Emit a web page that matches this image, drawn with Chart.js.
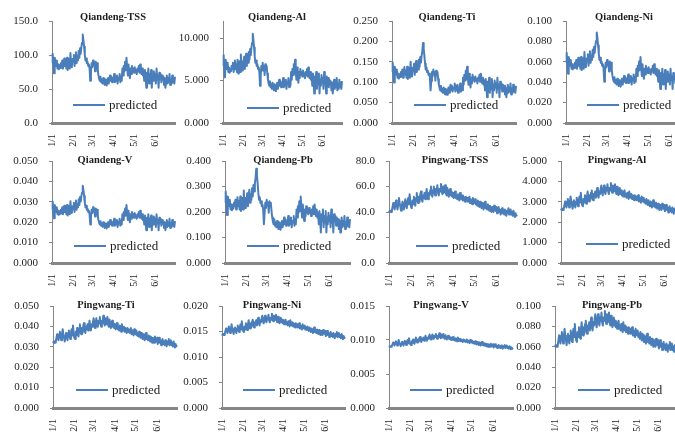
<!DOCTYPE html>
<html>
<head>
<meta charset="utf-8">
<script src="https://cdn.jsdelivr.net/npm/chart.js@4.4.1/dist/chart.umd.min.js"></script>
<style>
  html, body { margin: 0; padding: 0; background: #fff; }
  body { width: 675px; height: 433px; overflow: hidden; position: relative; }
  canvas { position: absolute; }
</style>
</head>
<body>
<script>
// ---- categories: one label per day, 1 Jan to 30 Jun ----
const monthLengths = [31, 28, 31, 30, 31, 30];
const dayLabels = [];
monthLengths.forEach((n, m) => { for (let d = 1; d <= n; d++) dayLabels.push((m + 1) + '/' + d); });

const panelTitles = ['Qiandeng-TSS', 'Qiandeng-Al', 'Qiandeng-Ti', 'Qiandeng-Ni',
                     'Qiandeng-V', 'Qiandeng-Pb', 'Pingwang-TSS', 'Pingwang-Al',
                     'Pingwang-Ti', 'Pingwang-Ni', 'Pingwang-V', 'Pingwang-Pb'];
const seriesName = 'predicted';

// ---- y axis ticks (max, step, decimals) ----
const yMax      = [150, 12, 0.25, 0.1, 0.05, 0.4, 80, 5, 0.05, 0.02, 0.015, 0.1];
const yStep     = [50, 5, 0.05, 0.02, 0.01, 0.1, 20, 1, 0.01, 0.005, 0.005, 0.02];
const yDecimals = [1, 3, 3, 3, 3, 3, 1, 3, 3, 3, 3, 3];

// ---- Qiandeng predicted series ----
const qiandengTSS = [
  88,102,85,73,96,90,84,92,80,86,79,83,81,88,84,92,80,86,95,84,90,80,96,78,88,94,80,103,86,82,94,
  90,100,84,95,104,88,98,92,106,96,110,102,112,118,130,122,112,100,92,95,88,90,84,86,80,62,75,88,
  82,92,85,88,76,90,84,88,78,70,65,62,68,60,64,58,66,62,56,64,60,55,62,66,58,64,70,62,68,60,66,
  64,72,60,68,62,70,58,66,64,72,60,68,62,80,70,84,76,90,78,96,82,70,86,74,66,80,72,84,76,80,
  74,82,76,78,72,80,76,84,74,86,78,72,80,70,76,62,78,68,52,74,66,80,58,72,64,78,52,70,62,76,66,
  72,58,80,64,70,52,74,66,72,60,70,64,68,56,66,52,62,70,58,66,60,72,56,64,58,70,60,66,58,68];
const qiandengAl = [
  6.72,7.98,6.45,5.37,7.44,6.9,6.36,7.08,6,6.54,5.91,6.27,6.09,6.72,6.36,7.08,6,6.54,7.35,6.36,6.9,6,7.44,5.82,6.72,7.26,6,8.07,6.54,6.18,7.26,
  6.9,7.8,6.36,7.35,8.16,6.72,7.62,7.08,8.34,7.44,8.7,7.98,8.88,9.42,10.5,9.78,8.88,7.8,7.08,7.35,6.72,6.9,6.36,6.54,6,4.38,5.55,6.72,
  6.18,7.08,6.45,6.72,5.64,6.9,6.36,6.72,5.82,5.1,4.65,4.38,4.92,4.2,4.56,4.02,4.74,4.38,3.84,4.56,4.2,3.75,4.38,4.74,4.02,4.56,5.1,4.38,4.92,4.2,4.74,
  4.56,5.28,4.2,4.92,4.38,5.1,4.02,4.74,4.56,5.28,4.2,4.92,4.38,6,5.1,6.36,5.64,6.9,5.82,7.44,6.18,5.1,6.54,5.46,4.74,6,5.28,6.36,5.64,6,
  5.46,6.18,5.64,5.82,5.28,6,5.64,6.36,5.46,6.54,5.82,5.28,6,5.1,5.64,4.38,5.82,4.92,3.48,5.46,4.74,6,4.02,5.28,4.56,5.82,3.48,5.1,4.38,5.64,4.74,
  5.28,4.02,6,4.56,5.1,3.48,5.46,4.74,5.28,4.2,5.1,4.56,4.92,3.84,4.74,3.48,4.38,5.1,4.02,4.74,4.2,5.28,3.84,4.56,4.02,5.1,4.2,4.74,4.02,4.92];
const qiandengTi = [
  .125,.148,.120,.099,.138,.128,.118,.131,.111,.121,.109,.116,.113,.125,.118,.131,.111,.121,.137,.118,.128,.111,.138,.108,.125,.135,.111,.150,.121,.114,.135,
  .128,.145,.118,.137,.152,.125,.142,.131,.155,.138,.162,.148,.165,.176,.196,.182,.165,.145,.131,.137,.125,.128,.118,.121,.111,.080,.103,.125,
  .114,.131,.120,.125,.104,.128,.118,.125,.108,.094,.086,.080,.091,.077,.084,.074,.087,.080,.070,.084,.077,.069,.080,.087,.074,.084,.094,.080,.091,.077,.087,
  .084,.097,.077,.091,.080,.094,.074,.087,.084,.097,.077,.091,.080,.111,.094,.118,.104,.128,.108,.138,.114,.094,.121,.101,.087,.111,.097,.118,.104,.111,
  .101,.114,.104,.108,.097,.111,.104,.118,.101,.121,.108,.097,.111,.094,.104,.080,.108,.091,.063,.101,.087,.111,.074,.097,.084,.108,.063,.094,.080,.104,.087,
  .097,.074,.111,.084,.094,.063,.101,.087,.097,.077,.094,.084,.091,.070,.087,.063,.080,.094,.074,.087,.077,.097,.070,.084,.074,.094,.077,.087,.074,.091];
const qiandengNi = [
  .0590,.0689,.0569,.0483,.0647,.0604,.0561,.0618,.0533,.0576,.0526,.0554,.0540,.0590,.0561,.0618,.0533,.0576,.0640,.0561,.0604,.0533,.0647,.0519,.0590,.0632,.0533,.0696,.0576,.0547,.0632,
  .0604,.0675,.0561,.0640,.0703,.0590,.0661,.0618,.0718,.0647,.0746,.0689,.0760,.0803,.0888,.0831,.0760,.0675,.0618,.0640,.0590,.0604,.0561,.0576,.0533,.0405,.0498,.0590,
  .0547,.0618,.0569,.0590,.0505,.0604,.0561,.0590,.0519,.0462,.0427,.0405,.0448,.0391,.0419,.0377,.0434,.0405,.0363,.0419,.0391,.0356,.0405,.0434,.0377,.0419,.0462,.0405,.0448,.0391,.0434,
  .0419,.0476,.0391,.0448,.0405,.0462,.0377,.0434,.0419,.0476,.0391,.0448,.0405,.0533,.0462,.0561,.0505,.0604,.0519,.0647,.0547,.0462,.0576,.0490,.0434,.0533,.0476,.0561,.0505,.0533,
  .0490,.0547,.0505,.0519,.0476,.0533,.0505,.0561,.0490,.0576,.0519,.0476,.0533,.0462,.0505,.0405,.0519,.0448,.0334,.0490,.0434,.0533,.0377,.0476,.0419,.0519,.0334,.0462,.0405,.0505,.0434,
  .0476,.0377,.0533,.0419,.0462,.0334,.0490,.0434,.0476,.0391,.0462,.0419,.0448,.0363,.0434,.0334,.0405,.0462,.0377,.0434,.0391,.0476,.0363,.0419,.0377,.0462,.0391,.0434,.0377,.0448];
const qiandengV = [
  .0261,.0301,.0253,.0219,.0284,.0267,.0250,.0273,.0239,.0256,.0236,.0247,.0242,.0261,.0250,.0273,.0239,.0256,.0281,.0250,.0267,.0239,.0284,.0233,.0261,.0278,.0239,.0303,.0256,.0245,.0278,
  .0267,.0295,.0250,.0281,.0306,.0261,.0289,.0273,.0312,.0284,.0323,.0301,.0329,.0345,.0379,.0357,.0329,.0295,.0273,.0281,.0261,.0267,.0250,.0256,.0239,.0189,.0225,.0261,
  .0245,.0273,.0253,.0261,.0228,.0267,.0250,.0261,.0233,.0211,.0197,.0189,.0205,.0183,.0194,.0177,.0200,.0189,.0172,.0194,.0183,.0169,.0189,.0200,.0177,.0194,.0211,.0189,.0205,.0183,.0200,
  .0194,.0217,.0183,.0205,.0189,.0211,.0177,.0200,.0194,.0217,.0183,.0205,.0189,.0239,.0211,.0250,.0228,.0267,.0233,.0284,.0245,.0211,.0256,.0222,.0200,.0239,.0217,.0250,.0228,.0239,
  .0222,.0245,.0228,.0233,.0217,.0239,.0228,.0250,.0222,.0256,.0233,.0217,.0239,.0211,.0228,.0189,.0233,.0205,.0161,.0222,.0200,.0239,.0177,.0217,.0194,.0233,.0161,.0211,.0189,.0228,.0200,
  .0217,.0177,.0239,.0194,.0211,.0161,.0222,.0200,.0217,.0183,.0211,.0194,.0205,.0172,.0200,.0161,.0189,.0211,.0177,.0200,.0183,.0217,.0172,.0194,.0177,.0211,.0183,.0200,.0177,.0205];
const qiandengPb = [
  .236,.280,.226,.188,.261,.242,.223,.248,.210,.229,.207,.220,.213,.236,.223,.248,.210,.229,.258,.223,.242,.210,.261,.204,.236,.255,.210,.284,.229,.216,.255,
  .242,.274,.223,.258,.287,.236,.268,.248,.293,.261,.306,.280,.312,.332,.370,.344,.312,.274,.248,.258,.236,.242,.223,.229,.210,.152,.194,.236,
  .216,.248,.226,.236,.197,.242,.223,.236,.204,.178,.162,.152,.172,.146,.159,.140,.165,.152,.133,.159,.146,.130,.152,.165,.140,.159,.178,.152,.172,.146,.165,
  .159,.184,.146,.172,.152,.178,.140,.165,.159,.184,.146,.172,.152,.210,.178,.223,.197,.242,.204,.261,.216,.178,.229,.191,.165,.210,.184,.223,.197,.210,
  .191,.216,.197,.204,.184,.210,.197,.223,.191,.229,.204,.184,.210,.178,.197,.152,.204,.172,.120,.191,.165,.210,.140,.184,.159,.204,.120,.178,.152,.197,.165,
  .184,.140,.210,.159,.178,.120,.191,.165,.184,.146,.178,.159,.172,.133,.165,.120,.152,.178,.140,.165,.146,.184,.133,.159,.140,.178,.146,.165,.140,.172];

// ---- Pingwang predicted series ----
const pingwangTSS = [
  41,40,41,40,41,44,47,44,42,46,49,45,42,46,51,47,44,41,45,48,44,42,47,50,45,43,48,51,46,54,48,
  44,43,49,46,52,47,45,51,55,49,47,52,48,54,56,50,48,53,51,55,50,54,58,52,50,55,53,57,
  60,54,52,57,60,55,53,58,56,61,55,53,58,56,62,57,54,60,55,58,61,55,53,59,55,52,57,58,53,56,52,
  55,51,54,56,51,53,50,54,52,49,55,51,50,53,49,52,50,48,52,49,51,48,50,52,47,50,48,46,51,48,
  47,50,46,48,45,49,47,44,48,46,43,47,45,42,46,48,43,45,42,46,44,41,45,43,40,44,42,40,45,42,41,
  44,39,42,44,40,42,38,41,43,39,41,38,42,40,37,41,39,43,38,40,42,38,40,37,41,39,36,39,37,38];
const pingwangAl = [
  2.66,2.6,2.66,2.6,2.66,2.84,3.02,2.84,2.72,2.96,3.14,2.9,2.72,2.96,3.26,3.02,2.84,2.66,2.9,3.08,2.84,2.72,3.02,3.2,2.9,2.78,3.08,3.26,2.96,3.44,3.08,
  2.84,2.78,3.14,2.96,3.32,3.02,2.9,3.26,3.5,3.14,3.02,3.32,3.08,3.44,3.56,3.2,3.08,3.38,3.26,3.5,3.2,3.44,3.68,3.32,3.2,3.5,3.38,3.62,
  3.8,3.44,3.32,3.62,3.8,3.5,3.38,3.68,3.56,3.86,3.5,3.38,3.68,3.56,3.92,3.62,3.44,3.8,3.5,3.68,3.86,3.5,3.38,3.74,3.5,3.32,3.62,3.68,3.38,3.56,3.32,
  3.5,3.26,3.44,3.56,3.26,3.38,3.2,3.44,3.32,3.14,3.5,3.26,3.2,3.38,3.14,3.32,3.2,3.08,3.32,3.14,3.26,3.08,3.2,3.32,3.02,3.2,3.08,2.96,3.26,3.08,
  3.02,3.2,2.96,3.08,2.9,3.14,3.02,2.84,3.08,2.96,2.78,3.02,2.9,2.72,2.96,3.08,2.78,2.9,2.72,2.96,2.84,2.66,2.9,2.78,2.6,2.84,2.72,2.6,2.9,2.72,2.66,
  2.84,2.54,2.72,2.84,2.6,2.72,2.48,2.66,2.78,2.54,2.66,2.48,2.72,2.6,2.42,2.66,2.54,2.78,2.48,2.6,2.72,2.48,2.6,2.42,2.66,2.54,2.36,2.54,2.42,2.48];
const pingwangTi = [
  .0326,.0320,.0326,.0320,.0326,.0344,.0362,.0344,.0332,.0356,.0374,.0350,.0332,.0356,.0386,.0362,.0344,.0326,.0350,.0368,.0344,.0332,.0362,.0380,.0350,.0338,.0368,.0386,.0356,.0404,.0368,
  .0344,.0338,.0374,.0356,.0392,.0362,.0350,.0386,.0410,.0374,.0362,.0392,.0368,.0404,.0416,.0380,.0368,.0398,.0386,.0410,.0380,.0404,.0428,.0392,.0380,.0410,.0398,.0422,
  .0440,.0404,.0392,.0422,.0440,.0410,.0398,.0428,.0416,.0446,.0410,.0398,.0428,.0416,.0452,.0422,.0404,.0440,.0410,.0428,.0446,.0410,.0398,.0434,.0410,.0392,.0422,.0428,.0398,.0416,.0392,
  .0410,.0386,.0404,.0416,.0386,.0398,.0380,.0404,.0392,.0374,.0410,.0386,.0380,.0398,.0374,.0392,.0380,.0368,.0392,.0374,.0386,.0368,.0380,.0392,.0362,.0380,.0368,.0356,.0386,.0368,
  .0362,.0380,.0356,.0368,.0350,.0374,.0362,.0344,.0368,.0356,.0338,.0362,.0350,.0332,.0356,.0368,.0338,.0350,.0332,.0356,.0344,.0326,.0350,.0338,.0320,.0344,.0332,.0320,.0350,.0332,.0326,
  .0344,.0314,.0332,.0344,.0320,.0332,.0308,.0326,.0338,.0314,.0326,.0308,.0332,.0320,.0302,.0326,.0314,.0338,.0308,.0320,.0332,.0308,.0320,.0302,.0326,.0314,.0296,.0314,.0302,.0308];
const pingwangNi = [
  .0145,.0143,.0145,.0143,.0145,.0151,.0156,.0151,.0147,.0154,.0160,.0153,.0147,.0154,.0164,.0156,.0151,.0145,.0153,.0158,.0151,.0147,.0156,.0162,.0153,.0149,.0158,.0164,.0154,.0170,.0158,
  .0151,.0149,.0160,.0154,.0166,.0156,.0153,.0164,.0172,.0160,.0156,.0166,.0158,.0170,.0173,.0162,.0158,.0168,.0164,.0172,.0162,.0170,.0177,.0166,.0162,.0172,.0168,.0175,
  .0181,.0170,.0166,.0175,.0181,.0172,.0168,.0177,.0173,.0183,.0172,.0168,.0177,.0173,.0185,.0175,.0170,.0181,.0172,.0177,.0183,.0172,.0168,.0179,.0172,.0166,.0175,.0177,.0168,.0173,.0166,
  .0172,.0164,.0170,.0173,.0164,.0168,.0162,.0170,.0166,.0160,.0172,.0164,.0162,.0168,.0160,.0166,.0162,.0158,.0166,.0160,.0164,.0158,.0162,.0166,.0156,.0162,.0158,.0154,.0164,.0158,
  .0156,.0162,.0154,.0158,.0153,.0160,.0156,.0151,.0158,.0154,.0149,.0156,.0153,.0147,.0154,.0158,.0149,.0153,.0147,.0154,.0151,.0145,.0153,.0149,.0143,.0151,.0147,.0143,.0153,.0147,.0145,
  .0151,.0141,.0147,.0151,.0143,.0147,.0139,.0145,.0149,.0141,.0145,.0139,.0147,.0143,.0137,.0145,.0141,.0149,.0139,.0143,.0147,.0139,.0143,.0137,.0145,.0141,.0135,.0141,.0137,.0139];
const pingwangV = [
  .00909,.00900,.00909,.00900,.00909,.00936,.00963,.00936,.00918,.00954,.00981,.00945,.00918,.00954,.00999,.00963,.00936,.00909,.00945,.00972,.00936,.00918,.00963,.00990,.00945,.00927,.00972,.00999,.00954,.01026,.00972,
  .00936,.00927,.00981,.00954,.01008,.00963,.00945,.00999,.01035,.00981,.00963,.01008,.00972,.01026,.01044,.00990,.00972,.01017,.00999,.01035,.00990,.01026,.01062,.01008,.00990,.01035,.01017,.01053,
  .01080,.01026,.01008,.01053,.01080,.01035,.01017,.01062,.01044,.01089,.01035,.01017,.01062,.01044,.01098,.01053,.01026,.01080,.01035,.01062,.01089,.01035,.01017,.01071,.01035,.01008,.01053,.01062,.01017,.01044,.01008,
  .01035,.00999,.01026,.01044,.00999,.01017,.00990,.01026,.01008,.00981,.01035,.00999,.00990,.01017,.00981,.01008,.00990,.00972,.01008,.00981,.00999,.00972,.00990,.01008,.00963,.00990,.00972,.00954,.00999,.00972,
  .00963,.00990,.00954,.00972,.00945,.00981,.00963,.00936,.00972,.00954,.00927,.00963,.00945,.00918,.00954,.00972,.00927,.00945,.00918,.00954,.00936,.00909,.00945,.00927,.00900,.00936,.00918,.00900,.00945,.00918,.00909,
  .00936,.00891,.00918,.00936,.00900,.00918,.00882,.00909,.00927,.00891,.00909,.00882,.00918,.00900,.00873,.00909,.00891,.00927,.00882,.00900,.00918,.00882,.00900,.00873,.00909,.00891,.00864,.00891,.00873,.00882];
const pingwangPb = [
  .0616,.0600,.0616,.0600,.0616,.0664,.0712,.0664,.0632,.0696,.0744,.0680,.0632,.0696,.0776,.0712,.0664,.0616,.0680,.0728,.0664,.0632,.0712,.0760,.0680,.0648,.0728,.0776,.0696,.0824,.0728,
  .0664,.0648,.0744,.0696,.0792,.0712,.0680,.0776,.0840,.0744,.0712,.0792,.0728,.0824,.0856,.0760,.0728,.0808,.0776,.0840,.0760,.0824,.0888,.0792,.0760,.0840,.0808,.0872,
  .0920,.0824,.0792,.0872,.0920,.0840,.0808,.0888,.0856,.0936,.0840,.0808,.0888,.0856,.0952,.0872,.0824,.0920,.0840,.0888,.0936,.0840,.0808,.0904,.0840,.0792,.0872,.0888,.0808,.0856,.0792,
  .0840,.0776,.0824,.0856,.0776,.0808,.0760,.0824,.0792,.0744,.0840,.0776,.0760,.0808,.0744,.0792,.0760,.0728,.0792,.0744,.0776,.0728,.0760,.0792,.0712,.0760,.0728,.0696,.0776,.0728,
  .0712,.0760,.0696,.0728,.0680,.0744,.0712,.0664,.0728,.0696,.0648,.0712,.0680,.0632,.0696,.0728,.0648,.0680,.0632,.0696,.0664,.0616,.0680,.0648,.0600,.0664,.0632,.0600,.0680,.0632,.0616,
  .0664,.0584,.0632,.0664,.0600,.0632,.0568,.0616,.0648,.0584,.0616,.0568,.0632,.0600,.0552,.0616,.0584,.0648,.0568,.0600,.0632,.0568,.0600,.0552,.0616,.0584,.0536,.0584,.0552,.0568];

const panelSeries = [qiandengTSS, qiandengAl, qiandengTi, qiandengNi, qiandengV, qiandengPb,
                     pingwangTSS, pingwangAl, pingwangTi, pingwangNi, pingwangV, pingwangPb];

// ---- page layout of each small chart (page pixels) ----
// [plotLeft, plotRight, plotTop, plotBottom, titleX, titleY, legendX, legendY]
const panelBoxes = [
  [52, 175, 21, 123, 113, 17, 73, 105],
  [223, 342, 21, 123, 277, 17, 247, 108],
  [392, 516, 21, 123, 447, 17, 414, 105],
  [566, 689, 21, 123, 624, 17, 587, 105],
  [52, 175, 161, 263, 105, 160, 74, 246],
  [225, 350, 161, 263, 283, 160, 247, 246],
  [389, 517, 161, 263, 455, 160, 416, 246],
  [561, 684, 161, 263, 617, 160, 586, 244],
  [53, 177, 306, 408, 106, 305, 76, 390],
  [222, 345, 306, 408, 272, 305, 243, 390],
  [389, 513, 306, 408, 441, 305, 410, 390],
  [555, 678, 306, 408, 612, 305, 578, 390]
];

const LINE = '#4a7ebb';
const AXIS = '#868686';
const TEXT = '#1e1e1e';
const SERIF = '"Liberation Serif", "Times New Roman", serif';

const Y_AXIS_W = 52, X_AXIS_H = 34, TOP_ROOM = 21, RIGHT_ROOM = 6;

// Draws each panel's bold title and its in-plot legend entry
const panelText = {
  id: 'panelText',
  afterDraw(chart, args, opts) {
    const ctx = chart.ctx;
    ctx.save();
    ctx.fillStyle = TEXT;
    ctx.textBaseline = 'middle';
    ctx.textAlign = 'center';
    ctx.font = 'bold 10.5px ' + SERIF;
    ctx.fillText(opts.title, opts.titleX, opts.titleY);

    const ds = chart.data.datasets[0];
    ctx.strokeStyle = ds.borderColor;
    ctx.lineWidth = 2;
    ctx.beginPath();
    ctx.moveTo(opts.legendX, opts.legendY);
    ctx.lineTo(opts.legendX + 32, opts.legendY);
    ctx.stroke();
    ctx.textAlign = 'left';
    ctx.font = '13px ' + SERIF;
    ctx.fillText(ds.label, opts.legendX + 36, opts.legendY + 0.5);
    ctx.restore();
  }
};

panelSeries.forEach((values, i) => {
  const [pl, pr, pt, pb, tx, ty, lx, ly] = panelBoxes[i];
  const left = pl - Y_AXIS_W;
  const top = pt - TOP_ROOM;
  const width = pr + RIGHT_ROOM - left;
  const height = pb + X_AXIS_H - top;

  const cv = document.createElement('canvas');
  cv.width = width; cv.height = height;
  cv.style.left = left + 'px'; cv.style.top = top + 'px';
  cv.style.width = width + 'px'; cv.style.height = height + 'px';
  document.body.appendChild(cv);

  const dec = yDecimals[i];
  new Chart(cv, {
    type: 'line',
    data: {
      labels: dayLabels,
      datasets: [{
        label: seriesName,
        data: values,
        borderColor: LINE,
        borderWidth: 2,
        borderJoinStyle: 'round',
        pointRadius: 0,
        tension: 0,
        fill: false
      }]
    },
    options: {
      responsive: false,
      animation: false,
      devicePixelRatio: 1,
      layout: { padding: { top: TOP_ROOM, right: RIGHT_ROOM, left: 0, bottom: 0 } },
      plugins: {
        legend: { display: false },
        title: { display: false },
        tooltip: { enabled: false },
        panelText: {
          title: panelTitles[i],
          titleX: tx - left, titleY: ty - top,
          legendX: lx - left, legendY: ly - top
        }
      },
      scales: {
        x: {
          grid: { display: false, drawTicks: false },
          border: { display: true, color: AXIS, width: 3 },
          ticks: {
            autoSkip: false,
            minRotation: 90,
            maxRotation: 90,
            padding: 11,
            color: TEXT,
            font: { family: SERIF, size: 10 },
            callback: (v, idx) => dayLabels[idx].endsWith('/1') ? dayLabels[idx] : ''
          },
          afterFit: s => { s.height = X_AXIS_H; s.paddingLeft = 0; s.paddingRight = 0; }
        },
        y: {
          min: 0,
          max: yMax[i],
          ticks: {
            stepSize: yStep[i],
            includeBounds: false,
            padding: 11,
            color: TEXT,
            font: { family: SERIF, size: 11 },
            callback: v => Number(v).toFixed(dec)
          },
          grid: { drawOnChartArea: false, drawTicks: true, tickLength: 3, color: AXIS },
          border: { display: true, color: AXIS, width: 1 },
          afterFit: s => { s.width = Y_AXIS_W; s.paddingTop = 0; s.paddingBottom = 0; }
        }
      }
    },
    plugins: [panelText]
  });
});
</script>
</body>
</html>
